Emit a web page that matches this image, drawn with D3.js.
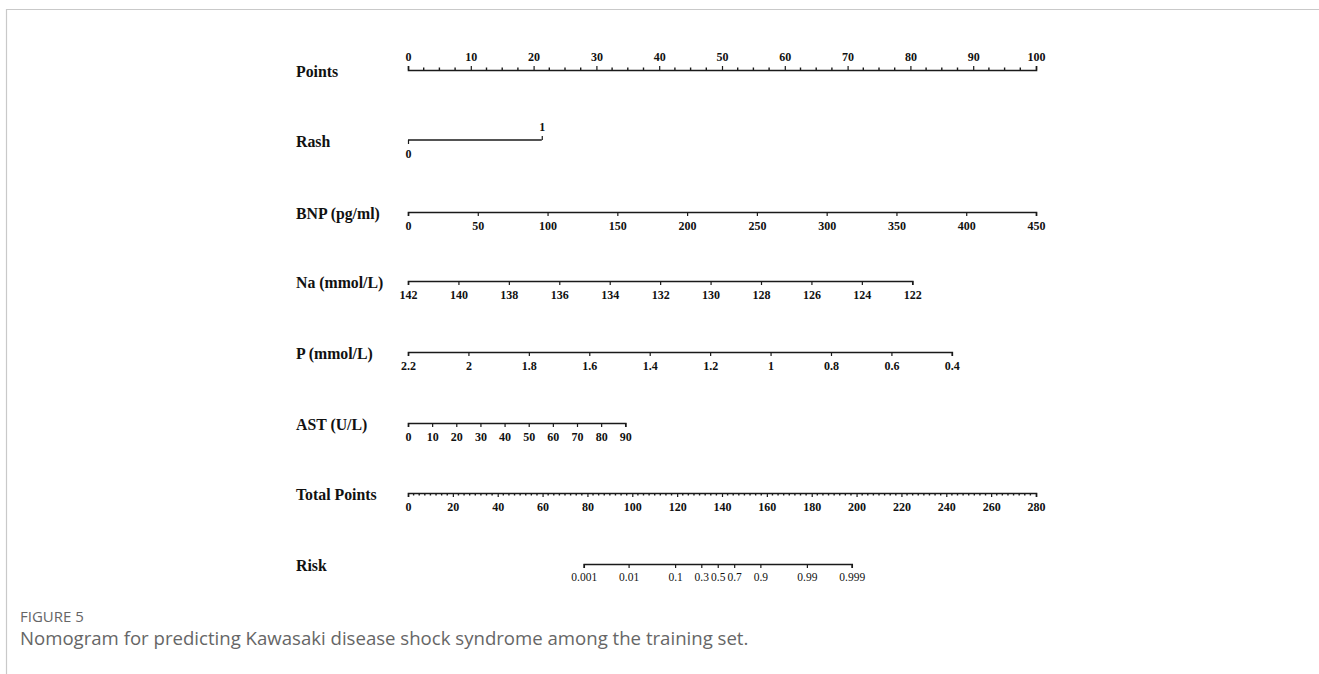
<!DOCTYPE html>
<html>
<head>
<meta charset="utf-8">
<script src="https://cdn.jsdelivr.net/npm/d3@7/dist/d3.min.js"></script>
<style>
  html, body { margin: 0; padding: 0; background: #fff; }
  svg { display: block; }
  .axis text { font-family: "Liberation Serif", "Times New Roman", serif; fill: #111; }
  .axis path, .axis line { stroke: #1a1a1a; }
</style>
</head>
<body>
<svg id="chart" width="1319" height="674"></svg>
<script>
// Nomogram scales: each predictor maps its values onto the 0-100 points line.
const pointsTicks = [0, 10, 20, 30, 40, 50, 60, 70, 80, 90, 100];
const pointsMinorStep = 2.5;

const rashValues = [0, 1];
const rashPoints = [0, 21.3];

const bnpTicks = [0, 50, 100, 150, 200, 250, 300, 350, 400, 450];
const bnpPoints = [0, 100];

const naTicks = [142, 140, 138, 136, 134, 132, 130, 128, 126, 124, 122];
const naPoints = [0, 80.3];

const pTicks = [2.2, 2, 1.8, 1.6, 1.4, 1.2, 1, 0.8, 0.6, 0.4];
const pLabels = ["2.2", "2", "1.8", "1.6", "1.4", "1.2", "1", "0.8", "0.6", "0.4"];
const pPoints = [0, 86.6];

const astTicks = [0, 10, 20, 30, 40, 50, 60, 70, 80, 90];
const astPoints = [0, 34.6];

const totalTicks = [0, 20, 40, 60, 80, 100, 120, 140, 160, 180, 200, 220, 240, 260, 280];
const totalMinorStep = 2.5;

const riskTicks = [0.001, 0.01, 0.1, 0.3, 0.5, 0.7, 0.9, 0.99, 0.999];
const riskLabels = ["0.001", "0.01", "0.1", "0.3", "0.5", "0.7", "0.9", "0.99", "0.999"];
// total points at which risk = 0.5, and total points per unit of log-odds
const riskMidPoints = 138.1;
const riskPointsPerLogit = 8.65;

const rowLabels = ["Points", "Rash", "BNP (pg/ml)", "Na (mmol/L)", "P (mmol/L)", "AST (U/L)", "Total Points", "Risk"];

const svg = d3.select("#chart");

// Panel frame
svg.append("line").attr("x1", 6).attr("x2", 1319).attr("y1", 9.5).attr("y2", 9.5)
  .attr("stroke", "#c9c9c9").attr("stroke-width", 1.2);
svg.append("line").attr("x1", 6.5).attr("x2", 6.5).attr("y1", 9).attr("y2", 674)
  .attr("stroke", "#c9c9c9").attr("stroke-width", 1.2);

const x0 = 408, x1 = 1036;
const pointsX = d3.scaleLinear().domain([0, 100]).range([x0, x1]);
const totalX = d3.scaleLinear().domain([0, 280]).range([x0, x1]);

const rowY = [70, 140, 212, 281, 352, 423, 493, 564];

const TICK_FONT = 12;

// Row titles
svg.append("g").selectAll("text").data(rowLabels).join("text")
  .attr("x", 296).attr("y", (d, i) => rowY[i] + 7)
  .attr("font-family", "'Liberation Serif', 'Times New Roman', serif")
  .attr("font-weight", "bold").attr("font-size", 15.8).attr("fill", "#111")
  .text(d => d);

function styleAxis(g, size, weight) {
  g.attr("class", "axis");
  g.selectAll("text").attr("font-size", size).attr("font-weight", weight);
  g.selectAll("path.domain").attr("stroke-width", 1.6);
  g.selectAll(".tick line").attr("stroke-width", 1.2);
}

// Scale from a predictor's value domain to pixel positions via its points range
function predictorScale(values, pts) {
  return d3.scaleLinear()
    .domain([values[0], values[values.length - 1]])
    .range([pointsX(pts[0]), pointsX(pts[1])]);
}

function bottomAxis(scale, ticks, y, fmt, size = TICK_FONT, weight = "bold") {
  const ax = d3.axisBottom(scale).tickValues(ticks).tickSize(4).tickSizeOuter(4).tickPadding(5);
  ax.tickFormat(fmt || (d => String(d)));
  const g = svg.append("g").attr("transform", `translate(0,${y})`).call(ax);
  styleAxis(g, size, weight);
  return g;
}

// Points
{
  const ax = d3.axisTop(pointsX).tickValues(pointsTicks).tickSize(4).tickSizeOuter(4).tickPadding(5)
    .tickFormat(d => String(d));
  const g = svg.append("g").attr("transform", `translate(0,${rowY[0]})`).call(ax);
  styleAxis(g, TICK_FONT, "bold");
  const minor = d3.range(0, 100 + 1e-9, pointsMinorStep).filter(v => v % 10 !== 0);
  g.selectAll("line.minor").data(minor).join("line").attr("class", "minor")
    .attr("x1", d => pointsX(d)).attr("x2", d => pointsX(d))
    .attr("y1", 0).attr("y2", -2.5).attr("stroke", "#1a1a1a").attr("stroke-width", 1.4);
}

// Rash: level 0 labelled below, level 1 above
{
  const s = predictorScale(rashValues, rashPoints);
  const g = svg.append("g").attr("transform", `translate(0,${rowY[1]})`).attr("class", "axis");
  g.append("line").attr("x1", s(rashValues[0])).attr("x2", s(rashValues[1])).attr("y1", 0).attr("y2", 0)
    .attr("stroke", "#1a1a1a").attr("stroke-width", 1.6);
  const lo = d3.axisBottom(s).tickValues([rashValues[0]]).tickSize(4).tickSizeOuter(0).tickPadding(5)
    .tickFormat(d => String(d));
  const hi = d3.axisTop(s).tickValues([rashValues[1]]).tickSize(4).tickSizeOuter(0).tickPadding(5)
    .tickFormat(d => String(d));
  const gl = g.append("g").call(lo); gl.select("path.domain").remove();
  const gh = g.append("g").call(hi); gh.select("path.domain").remove();
  styleAxis(g, TICK_FONT, "bold");
}

bottomAxis(predictorScale(bnpTicks, bnpPoints), bnpTicks, rowY[2]);
bottomAxis(predictorScale(naTicks, naPoints), naTicks, rowY[3]);
bottomAxis(predictorScale(pTicks, pPoints), pTicks, rowY[4], (d, i) => pLabels[i]);
bottomAxis(predictorScale(astTicks, astPoints), astTicks, rowY[5]);

// Total points
{
  const g = bottomAxis(totalX, totalTicks, rowY[6]);
  const minor = d3.range(0, 280 + 1e-9, totalMinorStep).filter(v => v % 20 !== 0);
  g.selectAll("line.minor").data(minor).join("line").attr("class", "minor")
    .attr("x1", d => totalX(d)).attr("x2", d => totalX(d))
    .attr("y1", 0).attr("y2", 2.5).attr("stroke", "#1a1a1a").attr("stroke-width", 1.4);
}

// Risk: positioned on the total-points scale through the log-odds
{
  const logit = p => Math.log(p / (1 - p));
  const lo = logit(riskTicks[0]), hi = logit(riskTicks[riskTicks.length - 1]);
  const riskX = d3.scaleLinear().domain([lo, hi])
    .range([totalX(riskMidPoints + riskPointsPerLogit * lo), totalX(riskMidPoints + riskPointsPerLogit * hi)]);
  bottomAxis(riskX, riskTicks.map(logit), rowY[7], (d, i) => riskLabels[i], 11.5, "normal");
}

// Caption
svg.append("text").attr("x", 20).attr("y", 622)
  .attr("font-family", "'Open Sans', sans-serif").attr("font-size", 15)
  .attr("fill", "#666").text("FIGURE 5");
svg.append("text").attr("x", 20).attr("y", 645)
  .attr("font-family", "'Open Sans', sans-serif").attr("font-size", 18.6)
  .attr("fill", "#666")
  .text("Nomogram for predicting Kawasaki disease shock syndrome among the training set.");
</script>
</body>
</html>
